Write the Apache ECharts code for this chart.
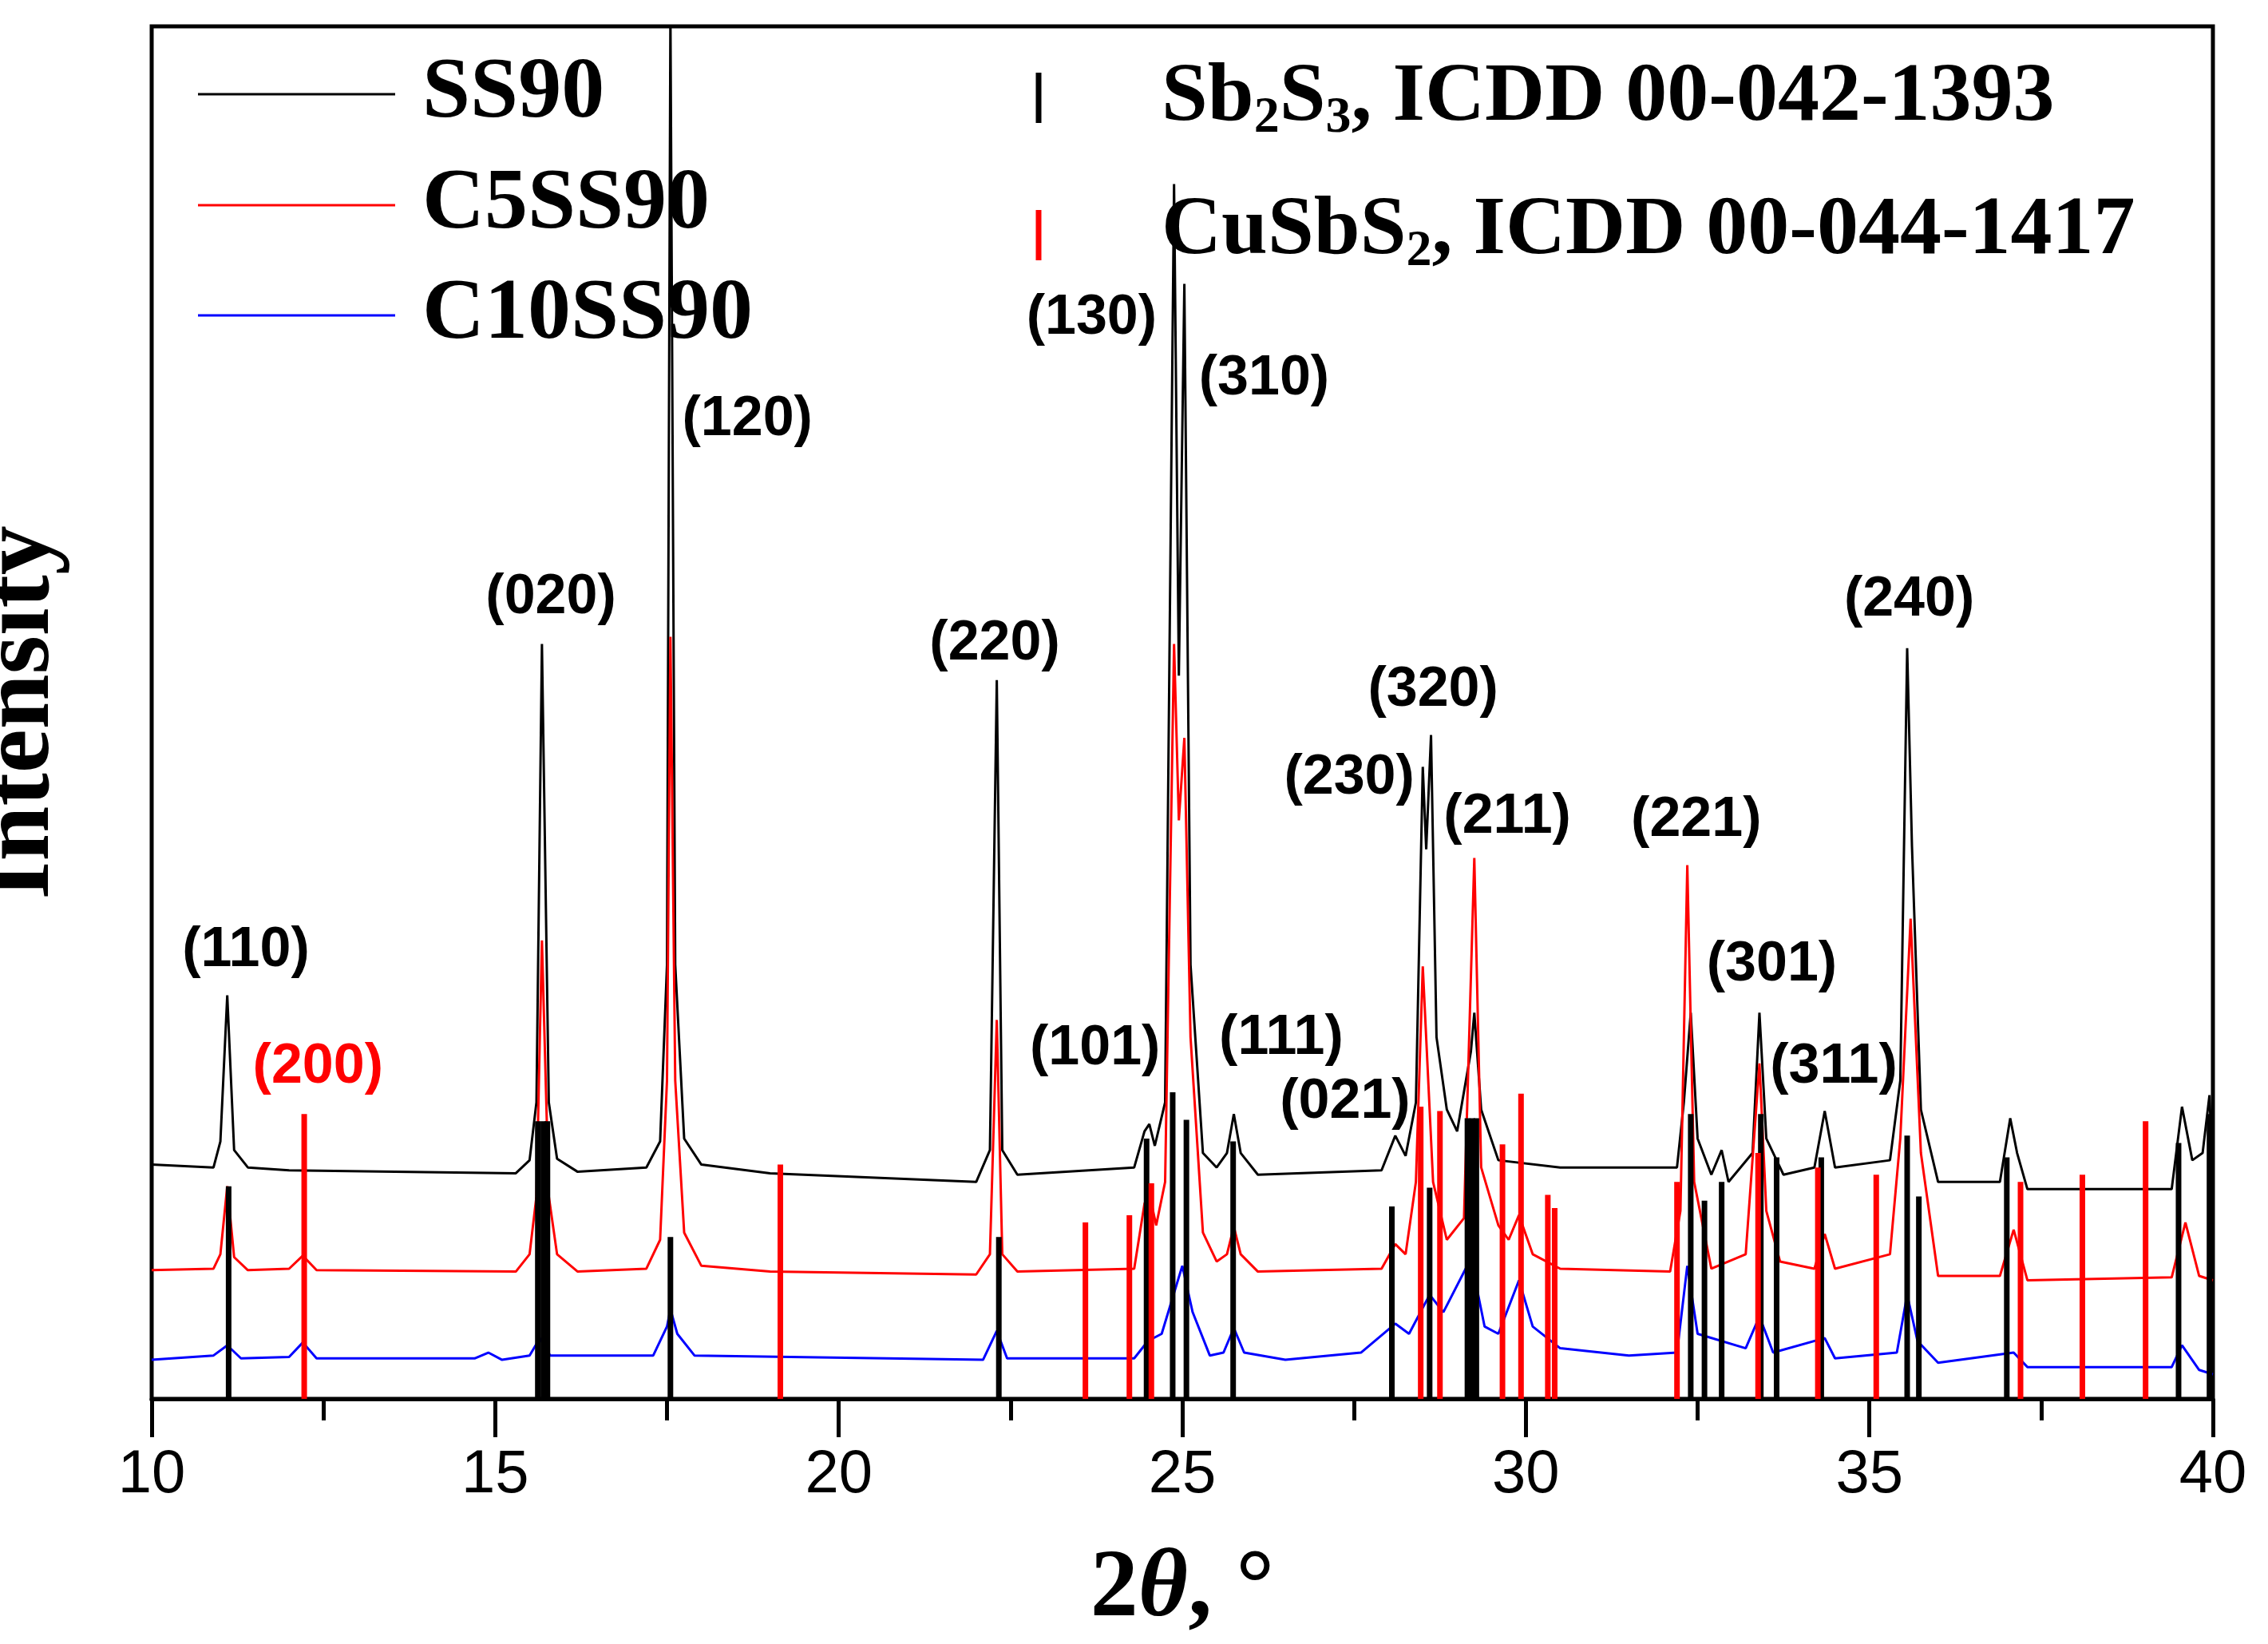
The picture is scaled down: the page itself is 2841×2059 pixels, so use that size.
<!DOCTYPE html>
<html><head><meta charset="utf-8">
<script src="https://cdn.jsdelivr.net/npm/echarts@6/dist/echarts.min.js"></script>
<style>html,body{margin:0;padding:0;background:#fff}#c{width:2841px;height:2059px}</style>
</head><body><div id="c"></div>
<script>
const ss90 = [[10,162],[10.9,160],[11.0,178],[11.1,279],[11.2,172],[11.4,160],[12,158],[15.3,156],[15.5,165],[15.6,205],[15.68,522],[15.78,205],[15.9,166],[16.2,157],[17.2,160],[17.4,178],[17.5,300],[17.55,960],[17.62,300],[17.75,180],[18.0,162],[19,156],[22.0,150],[22.2,172],[22.3,497],[22.38,172],[22.6,155],[24.3,160],[24.45,185],[24.52,190],[24.6,175],[24.75,205],[24.88,840],[24.95,500],[25.03,771],[25.12,300],[25.3,170],[25.5,160],[25.65,170],[25.75,197],[25.85,170],[26.1,155],[27.9,158],[28.1,182],[28.25,168],[28.4,205],[28.5,437],[28.55,380],[28.62,459],[28.7,250],[28.85,200],[29.0,185],[29.2,240],[29.25,267],[29.35,200],[29.6,165],[30.5,160],[32.2,160],[32.3,205],[32.4,267],[32.5,180],[32.7,155],[32.85,172],[32.95,150],[33.3,170],[33.4,267],[33.5,180],[33.65,165],[33.75,155],[34.2,160],[34.35,199],[34.5,160],[35.3,165],[35.45,220],[35.55,519],[35.62,382],[35.75,200],[36.0,150],[36.9,150],[37.05,194],[37.15,170],[37.3,145],[39.4,145],[39.55,202],[39.7,165],[39.85,170],[39.95,210],[40,150]];
const c5ss90 = [[10,89],[10.9,90],[11.0,100],[11.1,147],[11.2,98],[11.4,89],[12.0,90],[12.2,99],[12.4,89],[15.3,88],[15.5,100],[15.6,140],[15.68,317],[15.78,140],[15.9,100],[16.2,88],[17.2,90],[17.4,110],[17.5,220],[17.55,527],[17.62,220],[17.75,115],[18.0,92],[19,88],[22.0,86],[22.2,100],[22.3,262],[22.38,100],[22.6,88],[24.3,90],[24.45,135],[24.52,142],[24.62,120],[24.75,150],[24.88,522],[24.95,400],[25.03,457],[25.12,250],[25.3,115],[25.5,95],[25.65,100],[25.75,119],[25.85,100],[26.1,88],[27.9,90],[28.1,107],[28.25,100],[28.4,150],[28.5,299],[28.65,150],[28.85,110],[29.1,125],[29.25,374],[29.35,160],[29.6,120],[29.75,110],[29.9,127],[30.1,100],[30.5,90],[32.1,88],[32.25,130],[32.35,369],[32.45,150],[32.7,90],[33.2,100],[33.4,232],[33.5,130],[33.7,95],[34.2,90],[34.35,114],[34.5,90],[35.3,100],[35.45,180],[35.6,332],[35.75,170],[36.0,85],[36.9,85],[37.1,117],[37.3,82],[39.4,84],[39.6,122],[39.8,85],[40,82]];
const c10ss90 = [[10,27],[10.9,30],[11.1,37],[11.3,28],[12.0,29],[12.2,39],[12.4,28],[14.7,28],[14.9,32],[15.1,27],[15.5,30],[15.65,42],[15.8,30],[17.3,30],[17.5,50],[17.55,62],[17.65,45],[17.9,30],[22.1,27],[22.3,47],[22.45,28],[24.3,28],[24.5,40],[24.7,45],[25.0,92],[25.15,60],[25.4,30],[25.6,32],[25.75,49],[25.9,32],[26.5,27],[27.6,32],[28.1,52],[28.3,45],[28.6,72],[28.8,60],[29.2,97],[29.4,50],[29.6,45],[29.9,82],[30.1,50],[30.5,35],[31.5,30],[32.2,32],[32.35,92],[32.5,45],[33.2,35],[33.4,57],[33.6,32],[34.35,42],[34.5,28],[35.4,32],[35.55,72],[35.7,40],[36.0,25],[37.1,32],[37.3,22],[39.4,22],[39.55,37],[39.8,20],[40,17]];
const sb2s3Sticks = [[11.12,147],[15.62,192],[15.7,192],[15.76,192],[17.55,112],[22.33,112],[24.48,180],[24.86,212],[25.06,193],[25.74,178],[28.05,133],[28.6,146],[29.15,194],[29.22,194],[29.28,194],[32.4,197],[32.6,137],[32.85,150],[33.42,197],[33.65,167],[34.3,167],[35.55,182],[35.72,140],[37.0,167],[39.5,177],[39.95,197]];
const cusbs2Sticks = [[12.22,197],[19.15,162],[23.59,122],[24.23,127],[24.55,149],[28.47,202],[28.75,199],[29.66,176],[29.93,211],[30.32,141],[30.42,132],[32.2,150],[33.38,170],[34.25,160],[35.1,155],[37.2,150],[38.1,155],[39.02,192]];
const hklLabels = [[11.37,310,'(110)','#000'],[12.42,229,'(200)','#ff0000'],[15.81,554,'(020)','#000'],[18.67,677,'(120)','#000'],[22.27,522,'(220)','#000'],[23.68,747,'(130)','#000'],[26.19,705,'(310)','#000'],[23.73,242,'(101)','#000'],[26.44,249,'(111)','#000'],[27.37,205,'(021)','#000'],[27.43,429,'(230)','#000'],[28.65,490,'(320)','#000'],[29.73,402,'(211)','#000'],[32.48,400,'(221)','#000'],[33.58,300,'(301)','#000'],[34.48,229,'(311)','#000'],[35.58,552,'(240)','#000']];
const xTicks = [10,15,20,25,30,35,40];

const chart = echarts.init(document.getElementById('c'));
function sticks(data,color,name){
  return {type:'custom',name,data,z:5,renderItem:(p,api)=>{
    const a=api.coord([api.value(0),0]), b=api.coord([api.value(0),api.value(1)]);
    return {type:'line',shape:{x1:a[0],y1:a[1],x2:b[0],y2:b[1]},style:{stroke:color,lineWidth:7}};
  }};
}
chart.setOption({
  animation:false,
  grid:{left:190,right:69,top:33,bottom:307,show:true,borderColor:'#000',borderWidth:5,containLabel:false,outerBoundsMode:'none'},
  xAxis:{type:'value',min:10,max:40,interval:5,
    axisLine:{lineStyle:{color:'#000',width:5}},
    axisTick:{length:48,lineStyle:{width:5,color:'#000'}},
    minorTick:{show:true,splitNumber:2,length:27,lineStyle:{width:5,color:'#000'}},
    splitLine:{show:false},
    axisLabel:{fontSize:76,color:'#000',fontFamily:'Liberation Sans',margin:58,formatter:v=>xTicks.includes(v)?String(v):''},
    name:'{b|2}{i|θ}{b|, °}',nameLocation:'middle',nameGap:180,
    nameTextStyle:{rich:{b:{fontSize:120,fontWeight:'bold',fontFamily:'Liberation Serif',color:'#000'},i:{fontSize:120,fontWeight:'bold',fontStyle:'italic',fontFamily:'Liberation Serif',color:'#000'}}}},
  yAxis:{type:'value',min:0,max:949,axisLine:{show:false},axisTick:{show:false},axisLabel:{show:false},splitLine:{show:false},
    name:'Intensity',nameLocation:'middle',nameGap:100,nameTextStyle:{fontSize:124,fontWeight:'bold',fontFamily:'Liberation Serif',color:'#000'}},
  series:[
    {type:'line',name:'SS90',data:ss90,showSymbol:false,lineStyle:{color:'#000',width:3},z:3},
    {type:'line',name:'C5SS90',data:c5ss90,showSymbol:false,lineStyle:{color:'#ff0000',width:3},z:3},
    {type:'line',name:'C10SS90',data:c10ss90,showSymbol:false,lineStyle:{color:'#0000ff',width:3},z:3},
    sticks(sb2s3Sticks,'#000','Sb2S3'),
    sticks(cusbs2Sticks,'#ff0000','CuSbS2'),
    {type:'scatter',data:hklLabels.map(d=>({value:[d[0],d[1]],label:{color:d[3]}})),symbolSize:0,z:6,
      label:{show:true,position:'inside',formatter:p=>hklLabels[p.dataIndex][2],fontSize:70,fontWeight:'bold',fontFamily:'Liberation Sans',textBorderWidth:0,opacity:1}}
  ],
  graphic:[
    {type:'line',shape:{x1:248,y1:118,x2:495,y2:118},style:{stroke:'#000',lineWidth:3}},
    {type:'line',shape:{x1:248,y1:257,x2:495,y2:257},style:{stroke:'#ff0000',lineWidth:3}},
    {type:'line',shape:{x1:248,y1:395,x2:495,y2:395},style:{stroke:'#0000ff',lineWidth:3}},
    {type:'text',x:529,y:118,style:{text:'SS90',font:'bold 108px "Liberation Serif"',fill:'#000',verticalAlign:'middle'}},
    {type:'text',x:529,y:257,style:{text:'C5SS90',font:'bold 108px "Liberation Serif"',fill:'#000',verticalAlign:'middle'}},
    {type:'text',x:529,y:395,style:{text:'C10SS90',font:'bold 108px "Liberation Serif"',fill:'#000',verticalAlign:'middle'}},
    {type:'line',shape:{x1:1301,y1:91,x2:1301,y2:154},style:{stroke:'#000',lineWidth:7}},
    {type:'line',shape:{x1:1301,y1:263,x2:1301,y2:326},style:{stroke:'#ff0000',lineWidth:7}},
    {type:'text',x:1455,y:123,style:{text:'{a|Sb}{s|2}{a|S}{s|3}{a|, ICDD 00-042-1393}',verticalAlign:'middle',
      rich:{a:{font:'bold 104px "Liberation Serif"',fill:'#000'},s:{font:'bold 64px "Liberation Serif"',fill:'#000',padding:[50,0,0,0]}}}},
    {type:'text',x:1455,y:290,style:{text:'{a|CuSbS}{s|2}{a|, ICDD 00-044-1417}',verticalAlign:'middle',
      rich:{a:{font:'bold 104px "Liberation Serif"',fill:'#000'},s:{font:'bold 64px "Liberation Serif"',fill:'#000',padding:[50,0,0,0]}}}}
  ]
});
</script></body></html>
